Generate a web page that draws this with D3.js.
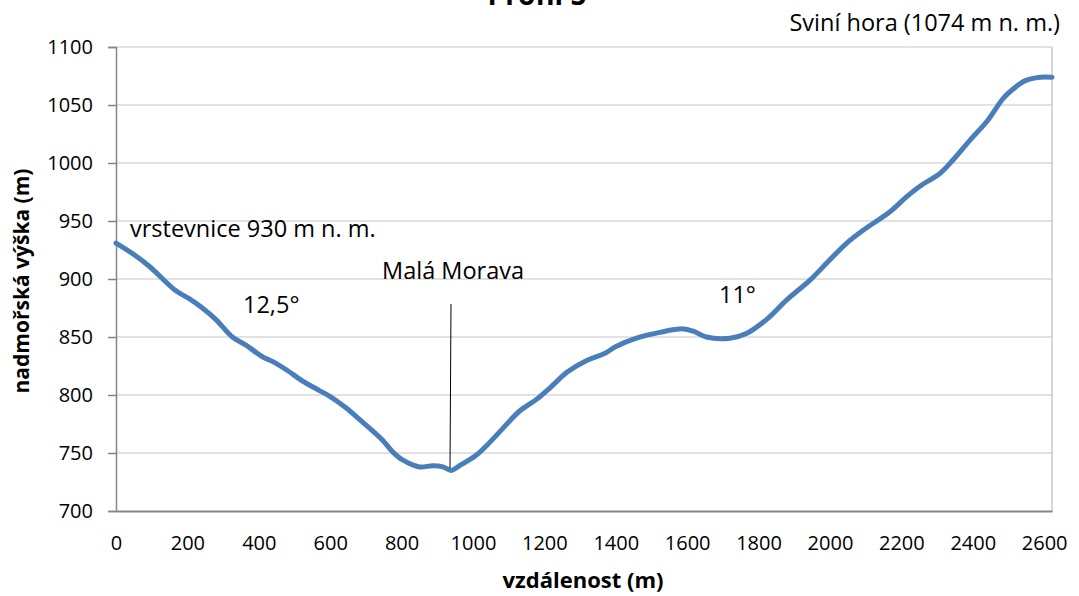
<!DOCTYPE html>
<html>
<head>
<meta charset="utf-8">
<script src="https://cdn.jsdelivr.net/npm/d3@7"></script>
<style>
  body { margin: 0; background: #fff; }
  svg text { font-family: "Open Sans", Lato, sans-serif; fill: #000; }
</style>
</head>
<body>
<svg id="chart" width="1079" height="596"></svg>
<script>
// vzdálenost (m) a nadmořská výška (m) odečtené z profilu
var distance = [0, 46, 93, 167, 205, 242, 280, 326, 364, 410, 438, 476, 523, 569, 598, 644, 682, 719, 747, 775,
    803, 850, 887, 916, 939, 962, 1009, 1037, 1074, 1130, 1177, 1215, 1265, 1320, 1370, 1402, 1458, 1523, 1589, 1617,
    1654, 1720, 1766, 1822, 1879, 1944, 1995, 2047, 2093, 2168, 2215, 2252, 2308, 2346, 2393, 2440, 2486, 2514, 2547, 2589, 2622];
var elevation = [931, 922, 911, 890, 883, 875, 865, 850, 843, 833, 829, 822, 812, 804, 799, 789, 779, 769, 761, 751,
    744, 738, 739, 738, 735, 739, 748, 756, 768, 786, 796, 806, 820, 830, 836, 842, 849, 854, 857, 855,
    850, 849, 853, 865, 882, 899, 915, 931, 942, 958, 971, 980, 991, 1003, 1020, 1036, 1056, 1064, 1071, 1074, 1074];
var xTicks = [0, 200, 400, 600, 800, 1000, 1200, 1400, 1600, 1800, 2000, 2200, 2400, 2600];
var yTicks = [700, 750, 800, 850, 900, 950, 1000, 1050, 1100];

var svg = d3.select("#chart");
var plotLeft = 116, plotRight = 1052, plotTop = 47, plotBottom = 511;

var xScale = d3.scaleLinear().domain([0, 2622]).range([plotLeft, plotRight]);
var yScale = d3.scaleLinear().domain([700, 1100]).range([plotBottom, plotTop]);

// mřížka
svg.append("g")
    .selectAll("line")
    .data(yTicks.slice(1))
    .enter()
    .append("line")
    .attr("x1", plotLeft).attr("x2", plotRight)
    .attr("y1", function(d){ return yScale(d); })
    .attr("y2", function(d){ return yScale(d); })
    .attr("stroke", "#d9d9d9")
    .attr("stroke-width", 1.5);

// pravý okraj plochy grafu
svg.append("line")
    .attr("x1", plotRight).attr("x2", plotRight)
    .attr("y1", plotTop).attr("y2", plotBottom)
    .attr("stroke", "#c8c8c8").attr("stroke-width", 1.5);

// osa y
var yAxis = svg.append("g")
    .attr("transform", "translate(" + plotLeft + ",0)")
    .call(d3.axisLeft(yScale).tickValues(yTicks).tickFormat(d3.format("d")).tickSize(8).tickPadding(15));
yAxis.select(".domain").attr("stroke", "#868686").attr("stroke-width", 1.5);
yAxis.selectAll(".tick line").attr("stroke", "#868686").attr("stroke-width", 1.5);
yAxis.selectAll("text").style("font-size", "20px").attr("fill", "#000");

// osa x
var xAxis = svg.append("g")
    .attr("transform", "translate(0," + plotBottom + ")")
    .call(d3.axisBottom(xScale).tickValues(xTicks).tickFormat(d3.format("d")).tickSize(0).tickPadding(25));
xAxis.select(".domain").attr("stroke", "#868686").attr("stroke-width", 2);
xAxis.selectAll("text").style("font-size", "20px").attr("fill", "#000");

// profil
var line = d3.line()
    .x(function(d, i){ return xScale(distance[i]); })
    .y(function(d){ return yScale(d); })
    .curve(d3.curveCatmullRom.alpha(0.5));

svg.append("path")
    .datum(elevation)
    .attr("d", line)
    .attr("fill", "none")
    .attr("stroke", "#4a7ebb")
    .attr("stroke-width", 5)
    .attr("stroke-linecap", "round")
    .attr("stroke-linejoin", "round");

// popisky os
svg.append("text")
    .attr("x", 583).attr("y", 588)
    .attr("text-anchor", "middle")
    .style("font-size", "22px").style("font-weight", "bold")
    .text("vzdálenost (m)");

svg.append("text")
    .attr("transform", "translate(29,281) rotate(-90)")
    .attr("text-anchor", "middle")
    .style("font-size", "21px").style("font-weight", "bold")
    .text("nadmořská výška (m)");

// titulek (oříznutý nahoře)
svg.append("text")
    .attr("x", 537).attr("y", 5)
    .attr("text-anchor", "middle")
    .style("font-size", "28px").style("font-weight", "bold")
    .text("Profil 5");

// poznámky
var notes = [
    { t: "Sviní hora (1074 m n. m.)", x: 1060, y: 31, a: "end" },
    { t: "vrstevnice 930 m n. m.", x: 130, y: 237, a: "start" },
    { t: "12,5°", x: 243, y: 313, a: "start" },
    { t: "Malá Morava", x: 382, y: 279, a: "start" },
    { t: "11°", x: 719, y: 303, a: "start" }
];
svg.append("g")
    .selectAll("text")
    .data(notes)
    .enter()
    .append("text")
    .attr("x", function(d){ return d.x; })
    .attr("y", function(d){ return d.y; })
    .attr("text-anchor", function(d){ return d.a; })
    .style("font-size", "23.5px")
    .text(function(d){ return d.t; });

// ukazatel Malá Morava
svg.append("line")
    .attr("x1", 451).attr("y1", 304)
    .attr("x2", 450).attr("y2", 468)
    .attr("stroke", "#000").attr("stroke-width", 1);
</script>
</body>
</html>
